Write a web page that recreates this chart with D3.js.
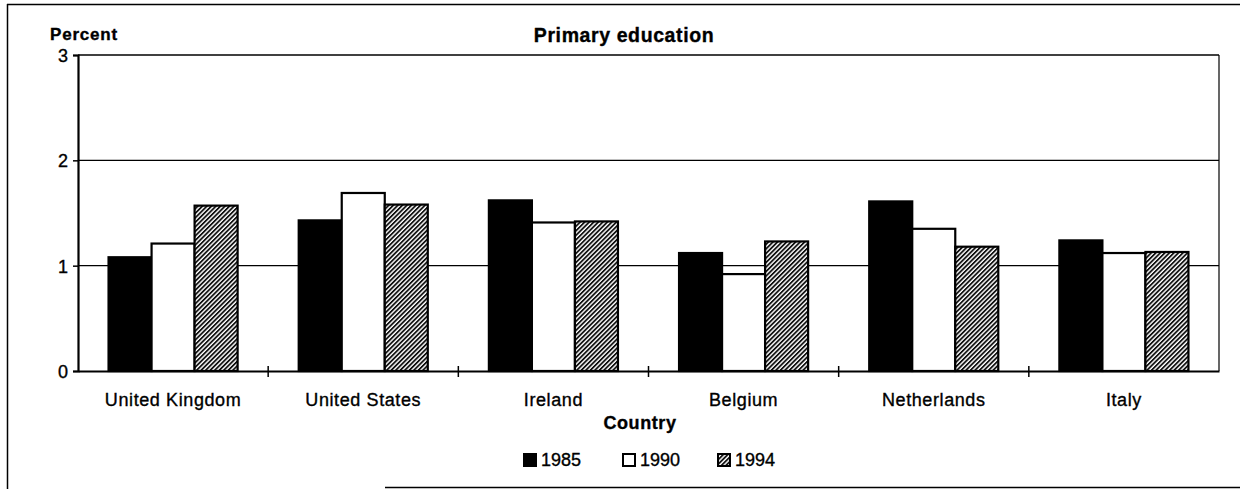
<!DOCTYPE html>
<html><head><meta charset="utf-8">
<script src="https://cdn.jsdelivr.net/npm/d3@7"></script>
<style>body{margin:0;background:#fff}svg{display:block}text{font-family:"Liberation Sans",Arial,sans-serif;fill:#000;stroke:#000;stroke-width:0.35px}</style>
</head><body>
<script>
const categories = ["United Kingdom","United States","Ireland","Belgium","Netherlands","Italy"];
const series = ["1985","1990","1994"];
const v1985 = [1.08,1.43,1.62,1.12,1.61,1.24];
const v1990 = [1.21,1.69,1.41,0.92,1.35,1.12];
const v1994 = [1.57,1.58,1.42,1.23,1.18,1.13];
const yTicks = [0,1,2,3];
const title = "Primary education", yLabel = "Percent", xLabel = "Country";

const W=1240,H=489;
const svg=d3.select("body").append("svg").attr("width",W).attr("height",H);
const defs=svg.append("defs");
const pat=defs.append("pattern").attr("id","hatch").attr("patternUnits","userSpaceOnUse")
  .attr("width",3.2).attr("height",3.2).attr("patternTransform","rotate(45)");
pat.append("rect").attr("width",3.2).attr("height",3.2).attr("fill","#fff");
pat.append("rect").attr("width",1.8).attr("height",3.2).attr("fill","#111");
const fills={"1985":"#000","1990":"#fff","1994":"url(#hatch)"};

// outer frame
svg.append("line").attr("x1",7).attr("x2",W).attr("y1",4.5).attr("y2",4.5).attr("stroke","#000").attr("stroke-width",1.5);
svg.append("line").attr("x1",7.5).attr("x2",7.5).attr("y1",4).attr("y2",H).attr("stroke","#000").attr("stroke-width",1.5);
svg.append("line").attr("x1",385).attr("x2",W).attr("y1",487.5).attr("y2",487.5).attr("stroke","#000").attr("stroke-width",1.5);

const L=78,R=1219,T=55,B=371;
const x0=d3.scaleBand().domain(categories).range([L,R]).padding(0);
const x1=d3.scaleBand().domain(series).range([0,x0.bandwidth()]).paddingInner(0).paddingOuter(0.71);
const y=d3.scaleLinear().domain([0,3]).range([B,T]);

// gridlines
svg.append("g").selectAll("line").data(yTicks.filter(d=>d>0)).join("line")
  .attr("x1",L).attr("x2",R).attr("y1",d=>y(d)).attr("y2",d=>y(d)).attr("stroke","#000").attr("stroke-width",1.4);
// right border
svg.append("line").attr("x1",R).attr("x2",R).attr("y1",T).attr("y2",B).attr("stroke","#000").attr("stroke-width",1.2);

const data=[v1985,v1990,v1994];
const g=svg.append("g");
categories.forEach((c,i)=>{
  series.forEach((s,j)=>{
    g.append("rect").attr("x",x0(c)+x1(s)).attr("y",y(data[j][i]))
      .attr("width",x1.bandwidth()).attr("height",B-y(data[j][i]))
      .attr("fill",fills[s]).attr("stroke","#000").attr("stroke-width",2.2);
  });
});

// y axis
const ya=svg.append("g").attr("transform",`translate(${L},0)`)
  .call(d3.axisLeft(y).tickValues(yTicks).tickFormat(d3.format("d")).tickSize(5).tickPadding(5));
ya.select(".domain").attr("stroke-width",2.2);
ya.selectAll("text").attr("font-size",18).attr("dy","0.36em").style("font-family","Liberation Sans, Arial");
ya.selectAll(".tick line").attr("stroke-width",1.5);

// x axis
const xa=svg.append("g").attr("transform",`translate(0,${B})`)
  .call(d3.axisBottom(x0).tickSize(0).tickPadding(22));
xa.select(".domain").attr("stroke-width",2.2);
xa.selectAll("text").attr("font-size",18).attr("letter-spacing",0.6).style("font-family","Liberation Sans, Arial");
svg.append("g").selectAll("line").data(categories.slice(1)).join("line")
  .attr("x1",d=>x0(d)).attr("x2",d=>x0(d)).attr("y1",B-5).attr("y2",B+6).attr("stroke","#000").attr("stroke-width",1.5);

// titles
svg.append("text").attr("x",624).attr("y",42).attr("text-anchor","middle")
  .attr("font-size",19.5).attr("letter-spacing",0.6).attr("font-weight","bold").text(title);
svg.append("text").attr("x",50).attr("y",40).attr("font-size",17).attr("letter-spacing",0.8).attr("font-weight","bold").text(yLabel);
svg.append("text").attr("x",640).attr("y",429).attr("text-anchor","middle")
  .attr("font-size",18).attr("letter-spacing",0.6).attr("font-weight","bold").text(xLabel);

// legend
const legX=[523,622,717];
series.forEach((s,j)=>{
  svg.append("rect").attr("x",legX[j]+1).attr("y",454).attr("width",12).attr("height",12)
    .attr("fill",fills[s]).attr("stroke","#000").attr("stroke-width",2);
  svg.append("text").attr("x",legX[j]+18).attr("y",466).attr("font-size",18).text(s);
});
</script>
</body></html>
